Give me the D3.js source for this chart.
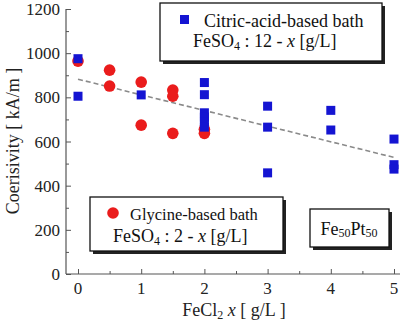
<!DOCTYPE html>
<html><head><meta charset="utf-8">
<script src="https://cdn.jsdelivr.net/npm/d3@7"></script>
<style>body{margin:0;background:#fff}svg{display:block}</style>
</head><body><svg id="c" width="400" height="327" font-family="'Liberation Serif', 'DejaVu Serif', 'Times New Roman', serif"></svg>
<script>
const citricX = [0, 0, 1, 2, 2, 2, 2, 2, 2, 3, 3, 3, 4, 4, 5, 5, 5];
const citricY = [975, 805, 811, 867, 812, 730, 710, 690, 665, 760, 665, 458, 741, 652, 611, 495, 475];
const glycineX = [0, 0.5, 0.5, 1, 1, 1.5, 1.5, 1.5, 2, 2];
const glycineY = [964, 923, 851, 869, 674, 833, 805, 637, 655, 637];
const fitX = [0, 5];
const fitY = [882, 528];
const xTicks = [0, 1, 2, 3, 4, 5];
const yTicks = [0, 200, 400, 600, 800, 1000, 1200];

const svg = d3.select("#c");
const x = d3.scaleLinear().domain([0, 5]).range([78, 394]);
const y = d3.scaleLinear().domain([0, 1200]).range([274, 9]);
const axisColor = "#555";
const FS = 17, LS = 18, SUB = 12;

// axes
const yAxis = svg.append("g").attr("transform", "translate(66,0)")
  .call(d3.axisRight(y).tickValues(d3.range(0, 1201, 100)).tickSize(0).tickFormat(""));
yAxis.select(".domain").remove();
yAxis.selectAll(".tick line").attr("x2", d => d % 200 === 0 ? 5 : 3).attr("stroke", axisColor);
svg.append("line").attr("x1", 66).attr("x2", 66).attr("y1", y(1200)).attr("y2", 274).attr("stroke", axisColor).attr("stroke-width", 1.2);
svg.append("g").selectAll("text").data(yTicks).join("text")
  .attr("x", 60).attr("y", d => y(d) + 6).attr("text-anchor", "end").attr("font-size", FS).attr("fill", "#222").text(d => d);

const xAxis = svg.append("g").attr("transform", "translate(0,274)")
  .call(d3.axisTop(x).tickValues(d3.range(0, 5.01, 0.5)).tickSize(0).tickFormat(""));
xAxis.select(".domain").remove();
xAxis.selectAll(".tick line").attr("y2", d => Number.isInteger(d) ? -5 : -3).attr("stroke", axisColor);
svg.append("line").attr("x1", 66).attr("x2", 400).attr("y1", 274).attr("y2", 274).attr("stroke", axisColor).attr("stroke-width", 1.2);
svg.append("g").selectAll("text").data(xTicks).join("text")
  .attr("x", d => x(d)).attr("y", 294).attr("text-anchor", "middle").attr("font-size", FS).attr("fill", "#222").text(d => d);

// axis titles
svg.append("text").attr("transform", "translate(19,141) rotate(-90)").attr("text-anchor", "middle")
  .attr("font-size", LS).attr("fill", "#222").text("Coerisivity [ kA/m ]");
const xt = svg.append("text").attr("x", 234).attr("y", 316).attr("text-anchor", "middle").attr("font-size", LS).attr("fill", "#222");
xt.append("tspan").text("FeCl");
xt.append("tspan").attr("font-size", SUB).attr("dy", 3).text("2");
xt.append("tspan").attr("dy", -3).text(" ");
xt.append("tspan").attr("font-style", "italic").text("x");
xt.append("tspan").text(" [ g/L ]");

// fit line
svg.append("line").attr("x1", x(fitX[0])).attr("y1", y(fitY[0])).attr("x2", x(fitX[1])).attr("y2", y(fitY[1]))
  .attr("stroke", "#8a8a8a").attr("stroke-width", 1.6).attr("stroke-dasharray", "5,3");

// data
const red = "#ea1c1c", blue = "#1414d2";
svg.append("g").selectAll("circle").data(glycineX.map((d, i) => [d, glycineY[i]])).join("circle")
  .attr("cx", d => x(d[0])).attr("cy", d => y(d[1])).attr("r", 5.8).attr("fill", red);
svg.append("g").selectAll("rect").data(citricX.map((d, i) => [d, citricY[i]])).join("rect")
  .attr("x", d => x(d[0]) - 4.5).attr("y", d => y(d[1]) - 4.5).attr("width", 9).attr("height", 9).attr("fill", blue);

// legend boxes
function box(x0, y0, w, h) {
  svg.append("rect").attr("x", x0 + 3).attr("y", y0 + 3).attr("width", w).attr("height", h).attr("fill", "#222");
  svg.append("rect").attr("x", x0).attr("y", y0).attr("width", w).attr("height", h).attr("fill", "#fff").attr("stroke", "#111").attr("stroke-width", 1.3);
}
box(160, 3, 222, 58);
svg.append("rect").attr("x", 180).attr("y", 15).attr("width", 9).attr("height", 9).attr("fill", blue);
svg.append("text").attr("x", 204).attr("y", 27).attr("font-size", LS).attr("fill", "#111").text("Citric-acid-based bath");
const t1 = svg.append("text").attr("x", 193).attr("y", 47).attr("font-size", LS).attr("fill", "#111");
t1.append("tspan").text("FeSO");
t1.append("tspan").attr("font-size", SUB).attr("dy", 3).text("4");
t1.append("tspan").attr("dy", -3).text(" : 12 - ");
t1.append("tspan").attr("font-style", "italic").text("x");
t1.append("tspan").text(" [g/L]");

box(90, 197, 193, 54);
svg.append("circle").attr("cx", 113).attr("cy", 213).attr("r", 5.8).attr("fill", red);
svg.append("text").attr("x", 130).attr("y", 220).attr("font-size", 16.5).attr("fill", "#111").text("Glycine-based bath");
const t2 = svg.append("text").attr("x", 113).attr("y", 242).attr("font-size", LS).attr("fill", "#111");
t2.append("tspan").text("FeSO");
t2.append("tspan").attr("font-size", SUB).attr("dy", 3).text("4");
t2.append("tspan").attr("dy", -3).text(" : 2 - ");
t2.append("tspan").attr("font-style", "italic").text("x");
t2.append("tspan").text(" [g/L]");

box(310, 209, 79, 38);
const t3 = svg.append("text").attr("x", 349).attr("y", 235).attr("text-anchor", "middle").attr("font-size", LS).attr("fill", "#111");
t3.append("tspan").text("Fe");
t3.append("tspan").attr("font-size", SUB).attr("dy", 2).text("50");
t3.append("tspan").attr("dy", -2).text("Pt");
t3.append("tspan").attr("font-size", SUB).attr("dy", 2).text("50");
</script></body></html>
